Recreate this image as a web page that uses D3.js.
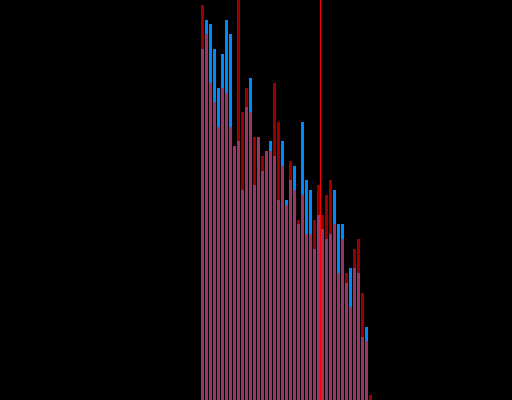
<!DOCTYPE html>
<html>
<head>
<meta charset="utf-8">
<script src="https://cdn.jsdelivr.net/npm/d3@7"></script>
<style>
  html, body { margin: 0; padding: 0; background: #000; }
  svg { display: block; }
</style>
</head>
<body>
<div id="chart"></div>
<script>
const width = 512;
const height = 400;

// bin start values (bins are 1 unit wide)
const bins = [50, 51, 52, 53, 54, 55, 56, 57, 58, 59, 60, 61, 62, 63, 64, 65, 66, 67, 68, 69, 70,
  71, 72, 73, 74, 75, 76, 77, 78, 79, 80, 81, 82, 83, 84, 85, 86, 87, 88, 89, 90, 91, 92];

const blueCounts = [72, 78, 77, 72, 64, 71, 78, 75, 52, 53, 43, 60, 66, 44, 54, 47, 51, 53, 50, 41, 53,
  41, 45, 48, 36, 57, 45, 43, 31, 38, 35, 33, 34, 43, 36, 36, 24, 27, 27, 26, 13, 15, 0];

const redCounts = [81, 75, 65, 61, 56, 64, 63, 56, 52, 82, 59, 64, 59, 54, 54, 50, 51, 51, 65, 57, 48,
  40, 49, 43, 37, 42, 34, 34, 37, 44, 38, 42, 45, 36, 26, 33, 26, 19, 31, 33, 22, 12, 1];

const markerValue = 80;

const blueData = bins.map((b, i) => ({ x0: b, x1: b + 1, count: blueCounts[i] }));
const redData = bins.map((b, i) => ({ x0: b, x1: b + 1, count: redCounts[i] }));

const x = d3.scaleLinear().domain([0, 128]).range([0, width]);
const y = d3.scaleLinear()
  .domain([0, d3.max(redCounts.concat(blueCounts))])
  .range([height, 0]);

const svg = d3.select("#chart")
  .append("svg")
  .attr("width", width)
  .attr("height", height)
  .attr("shape-rendering", "crispEdges");

svg.append("rect")
  .attr("width", width)
  .attr("height", height)
  .attr("fill", "#000");

svg.append("g")
  .selectAll("rect")
  .data(blueData)
  .join("rect")
  .attr("x", (d) => x(d.x0) + 1)
  .attr("width", (d) => x(d.x1) - x(d.x0) - 1)
  .attr("y", (d) => y(d.count))
  .attr("height", (d) => height - y(d.count))
  .attr("fill", "#0088ff");

svg.append("g")
  .selectAll("rect")
  .data(redData)
  .join("rect")
  .attr("x", (d) => x(d.x0) + 1)
  .attr("width", (d) => x(d.x1) - x(d.x0) - 1)
  .attr("y", (d) => y(d.count))
  .attr("height", (d) => height - y(d.count))
  .attr("fill", "#ff0000")
  .attr("fill-opacity", 0.6);

svg.append("line")
  .attr("x1", x(markerValue) + 0.5)
  .attr("x2", x(markerValue) + 0.5)
  .attr("y1", 0)
  .attr("y2", height)
  .attr("stroke", "#ff0000")
  .attr("stroke-width", 1);
</script>
</body>
</html>
